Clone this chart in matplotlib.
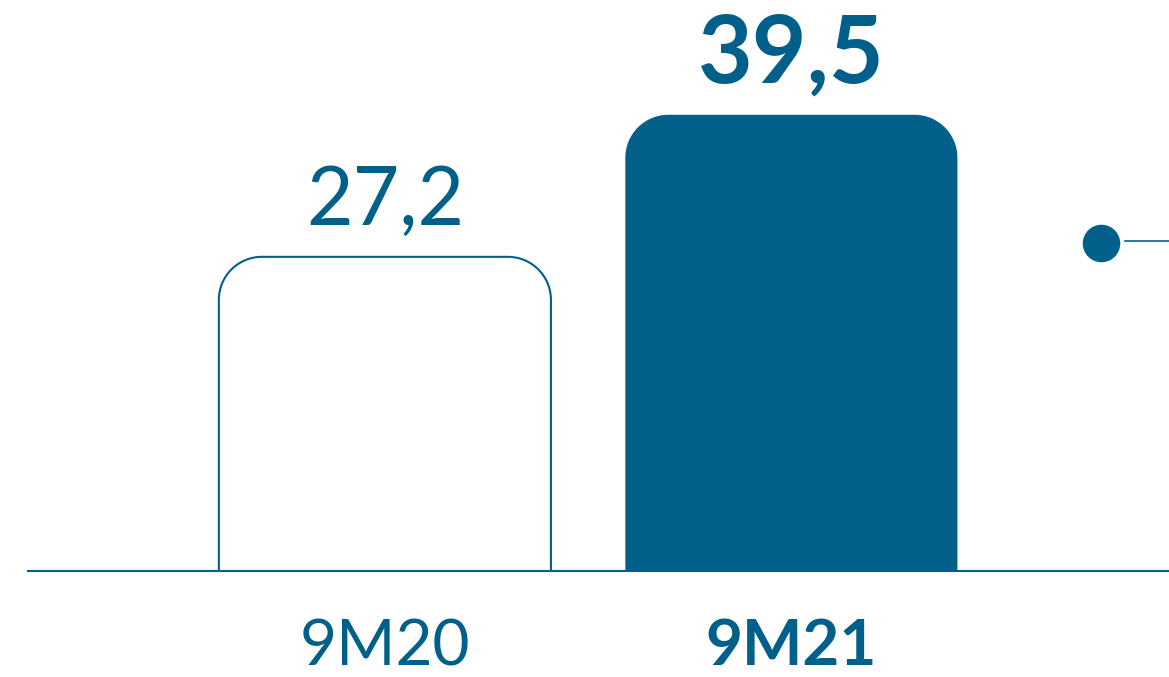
import matplotlib
matplotlib.use("Agg")
import matplotlib.pyplot as plt
from matplotlib.path import Path
from matplotlib.patches import PathPatch

# dati
categorie = ["9M20", "9M21"]
valori = [27.2, 39.5]
etichette = ["27,2", "39,5"]
pieni = [False, True]

BLU = "#00608a"
plt.rcParams['font.family'] = ['Lato', 'DejaVu Sans']

fig = plt.figure(figsize=(11.69, 6.77), dpi=100)
# assi: da x=28px a destra, base a 571px
ax = fig.add_axes([28/1169, 106/677, 1 - 28/1169, 571/677])
ax.set_xlim(-0.878, 1.929)
ax.set_ylim(0, 571/11.55)

for s in ['top', 'right', 'left']:
    ax.spines[s].set_visible(False)
ax.spines['bottom'].set_color(BLU)
ax.spines['bottom'].set_linewidth(1.5)
ax.set_yticks([])

# pixel per unita' per avere angoli circolari
fig.canvas.draw()
p0 = ax.transData.transform((0, 0))
p1 = ax.transData.transform((1, 1))
sx = p1[0] - p0[0]
sy = p1[1] - p0[1]
r_px = 43
rx = r_px / sx
ry = r_px / sy
k = 0.5523
larg = 0.817


def barra_arrotondata(xc, h):
    x0 = xc - larg/2
    x1 = xc + larg/2
    verts = [(x0, 0), (x0, h - ry),
             (x0, h - ry + k*ry), (x0 + rx - k*rx, h), (x0 + rx, h),
             (x1 - rx, h),
             (x1 - rx + k*rx, h), (x1, h - ry + k*ry), (x1, h - ry),
             (x1, 0), (x0, 0)]
    codes = [Path.MOVETO, Path.LINETO,
             Path.CURVE4, Path.CURVE4, Path.CURVE4,
             Path.LINETO,
             Path.CURVE4, Path.CURVE4, Path.CURVE4,
             Path.LINETO, Path.CLOSEPOLY]
    return Path(verts, codes)


for i, (v, et, pieno) in enumerate(zip(valori, etichette, pieni)):
    patch = PathPatch(barra_arrotondata(i, v),
                      facecolor=BLU if pieno else 'white',
                      edgecolor=BLU, linewidth=1.5 if not pieno else 0,
                      zorder=2)
    ax.add_patch(patch)
    ax.annotate(et, (i, v), xytext=(0, 23), textcoords='offset points',
                ha='center', va='baseline', color=BLU,
                fontsize=68 if pieno else 58,
                fontweight='bold' if pieno else 'normal')

ax.set_xticks(range(len(categorie)))
ax.set_xticklabels(categorie, fontsize=46, color=BLU)
ax.tick_params(axis='x', length=0, pad=34)
for lab, pieno in zip(ax.get_xticklabels(), pieni):
    lab.set_fontweight('bold' if pieno else 'normal')

# pallino a destra (tagliato)
ax.plot([0.940], [0.574], marker='o', markersize=26, color=BLU,
        transform=ax.transAxes, clip_on=False)
ax.plot([0.961, 1.0], [0.578, 0.578], color=BLU, linewidth=1.2,
        transform=ax.transAxes, clip_on=False)

fig.savefig("out.png", dpi=100)
